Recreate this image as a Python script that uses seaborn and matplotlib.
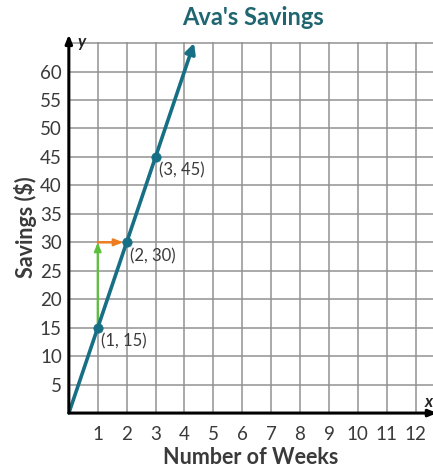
import matplotlib
matplotlib.use("Agg")
import matplotlib.pyplot as plt
import seaborn as sns
import pandas as pd

# data
weeks = [0, 1, 2, 3, 4.33]
savings = [0, 15, 30, 45, 65]
point_weeks = [1, 2, 3]
point_savings = [15, 30, 45]
point_labels = ["(1, 15)", "(2, 30)", "(3, 45)"]
x_ticks = list(range(1, 13))
y_ticks = list(range(5, 65, 5))

TEAL = "#176f86"
TITLE_TEAL = "#1f6670"
GREEN = "#5cc03a"
ORANGE = "#ee7d22"
TEXT = "#3a3a3a"

sns.set_style("white")
plt.rcParams["font.family"] = ["Lato", "DejaVu Sans"]

fig = plt.figure(figsize=(4.33, 4.71), dpi=100)
ax = fig.add_axes([0.159, 0.123, 0.841, 0.788])
ax.set_xlim(0, 12.6)
ax.set_ylim(0, 65.2)

# grid
for x in range(1, 13):
    ax.axvline(x, color="#929292", lw=1.1, zorder=1)
for y in list(range(5, 66, 5)):
    ax.axhline(y, color="#929292", lw=1.1, zorder=1)

line_df = pd.DataFrame({"week": weeks[:-1], "savings": savings[:-1]})
sns.lineplot(data=line_df, x="week", y="savings", ax=ax, color=TEAL, lw=2.6,
             zorder=4, estimator=None, sort=False)
ax.annotate("", xy=(weeks[-1], savings[-1]), xytext=(weeks[-2], savings[-2]),
            arrowprops=dict(arrowstyle="-|>,head_length=0.6,head_width=0.3", color=TEAL, lw=2.6,
                            shrinkA=0, shrinkB=0),
            annotation_clip=False, zorder=5)

# green (rise) and orange (run) arrows
ax.annotate("", xy=(point_weeks[0], point_savings[1]), xytext=(point_weeks[0], point_savings[0]),
            arrowprops=dict(arrowstyle="-|>,head_length=0.5,head_width=0.2", color=GREEN, lw=1.6,
                            shrinkA=0, shrinkB=0),
            zorder=3)
ax.annotate("", xy=(point_weeks[1] - 0.12, point_savings[1]), xytext=(point_weeks[0], point_savings[1]),
            arrowprops=dict(arrowstyle="-|>,head_length=0.5,head_width=0.2", color=ORANGE, lw=1.8,
                            shrinkA=0, shrinkB=0),
            zorder=3)

pts_df = pd.DataFrame({"week": point_weeks, "savings": point_savings})
sns.scatterplot(data=pts_df, x="week", y="savings", ax=ax, color=TEAL, s=45,
                edgecolor=TEAL, zorder=6)
for wx, sy, lab in zip(point_weeks, point_savings, point_labels):
    ax.text(wx + 0.12, sy - 1.0, lab, fontsize=12, color=TEXT, va="top", ha="left", zorder=7)

# axes with arrows
for s in ax.spines.values():
    s.set_visible(False)
ax.annotate("", xy=(0, 66.5), xytext=(0, 0),
            arrowprops=dict(arrowstyle="-|>,head_length=0.5,head_width=0.2", color="black", lw=2.2,
                            shrinkA=0, shrinkB=0),
            annotation_clip=False, zorder=8)
ax.annotate("", xy=(12.75, 0), xytext=(0, 0),
            arrowprops=dict(arrowstyle="-|>,head_length=0.5,head_width=0.2", color="black", lw=2.2,
                            shrinkA=0, shrinkB=0),
            annotation_clip=False, zorder=8)
ax.text(0.3, 64.3, "y", fontsize=12, fontstyle="italic", fontweight="bold", color="#222222")
ax.text(12.3, 1.0, "x", fontsize=12, fontstyle="italic", fontweight="bold", color="#222222")

ax.set_xticks(x_ticks)
ax.set_yticks(y_ticks)
ax.set_xticklabels([str(t) for t in x_ticks])
ax.set_yticklabels([str(t) for t in y_ticks])
ax.tick_params(axis="both", length=0, labelsize=13.5, labelcolor=TEXT, pad=5)
ax.tick_params(axis="x", pad=9)

ax.set_xlabel("Number of Weeks", fontsize=15.5, fontweight="bold", color=TEXT, labelpad=3)
ax.set_ylabel("Savings ($)", fontsize=15.5, fontweight="bold", color=TEXT, labelpad=2)
fig.text(0.585, 0.962, "Ava's Savings", fontsize=17, fontweight="bold", color=TITLE_TEAL,
         ha="center", va="center")

fig.savefig("out.png", dpi=100)
